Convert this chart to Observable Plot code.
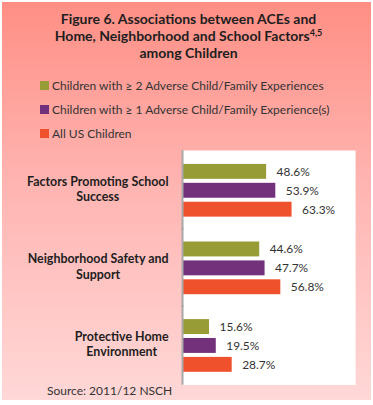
<!DOCTYPE html>
<html><head><meta charset="utf-8">
<script src="https://cdn.jsdelivr.net/npm/d3@7"></script>
<script src="https://cdn.jsdelivr.net/npm/@observablehq/plot@0.6"></script>
<style>
html,body{margin:0;padding:0;background:#fff;}
#wrap{position:relative;width:369px;height:398px;margin:2px 2px 0 2px;background:linear-gradient(#ff8f85 0%,#ffb4b1 45%,#ffd8d7 100%);font-family:Lato,"Open Sans",sans-serif;color:#262626;overflow:hidden;}
#title{position:absolute;left:2px;width:369px;top:8px;text-align:center;font-weight:bold;font-size:14px;line-height:17px;color:#1e1e1e;}
#title sup{font-size:9px;line-height:0;vertical-align:5px;}
#legend{position:absolute;left:38px;top:71px;font-size:12px;color:#333;}
.li{height:24px;display:flex;align-items:center;}
.sw{width:9px;height:9px;margin-right:3px;}
#chart{position:absolute;left:-2px;top:148px;}
#source{position:absolute;left:45px;top:381px;font-size:12px;color:#333;}
</style></head>
<body>
<div id="wrap">
<div id="title">Figure 6. Associations between ACEs and<br>Home, Neighborhood and School Factors<sup>4,5</sup><br>among Children</div>
<div id="legend"></div>
<div id="chart"></div>
<div id="source">Source: 2011/12 NSCH</div>
</div>
<script>
const factors = ["Factors Promoting School\nSuccess", "Neighborhood Safety and\nSupport", "Protective Home\nEnvironment"];
const series = ["Children with ≥ 2 Adverse Child/Family Experiences", "Children with ≥ 1 Adverse Child/Family Experience(s)", "All US Children"];
const colors = ["#979c37", "#74317b", "#f0512d"];
const valsTwoPlus = [48.6, 44.6, 15.6];
const valsOnePlus = [53.9, 47.7, 19.5];
const valsAll = [63.3, 56.8, 28.7];

const seriesVals = [valsTwoPlus, valsOnePlus, valsAll];
const data = [];
factors.forEach((f, i) => series.forEach((s, j) => data.push({factor: f, series: s, value: seriesVals[j][i]})));

const legend = document.getElementById("legend");
series.forEach((s, j) => {
  const d = document.createElement("div");
  d.className = "li";
  d.innerHTML = `<span class="sw" style="background:${colors[j]}"></span><span>${s}</span>`;
  legend.appendChild(d);
});

const chart = Plot.plot({
  width: 373,
  height: 236,
  marginTop: 0, marginBottom: 0, marginLeft: 183, marginRight: 16,
  style: {background: "transparent", fontFamily: "Lato, 'Open Sans', sans-serif"},
  x: {domain: [0, 100], axis: null},
  y: {domain: series, axis: null, paddingInner: 0.23, paddingOuter: 0.63},
  fy: {domain: factors, padding: 0, label: null, axis: null},
  color: {domain: series, range: colors},
  marks: [
    Plot.frame({fill: "white", insetTop: -1, insetBottom: -1}),
    Plot.barX(data, {fy: "factor", y: "series", x: "value", fill: "series"}),
    Plot.text(data, {fy: "factor", y: "series", x: "value", text: d => d.value.toFixed(1) + "%", textAnchor: "start", dx: 10, fontSize: 12, fill: "#333"}),
    Plot.ruleX([0], {stroke: "#a8a8a8", strokeWidth: 2, insetTop: -1, insetBottom: -1}),
    Plot.axisFy({anchor: "left", tickSize: 0, tickPadding: 14, dy: -2, fontSize: 12.5, fontWeight: "bold", fill: "#1e1e1e", lineHeight: 1.24, label: null})
  ]
});
document.getElementById("chart").appendChild(chart);

// center each multi-line category label within its own block (right edge kept)
chart.querySelectorAll('g[aria-label="fy-axis tick label"] text').forEach(t => {
  const spans = t.querySelectorAll("tspan");
  if (!spans.length) return;
  let w = 0;
  spans.forEach(s => { w = Math.max(w, s.getComputedTextLength()); });
  const x0 = +(spans[0].getAttribute("x") || 0);
  t.setAttribute("text-anchor", "middle");
  spans.forEach(s => s.setAttribute("x", x0 - w / 2));
});
</script>
</body></html>
